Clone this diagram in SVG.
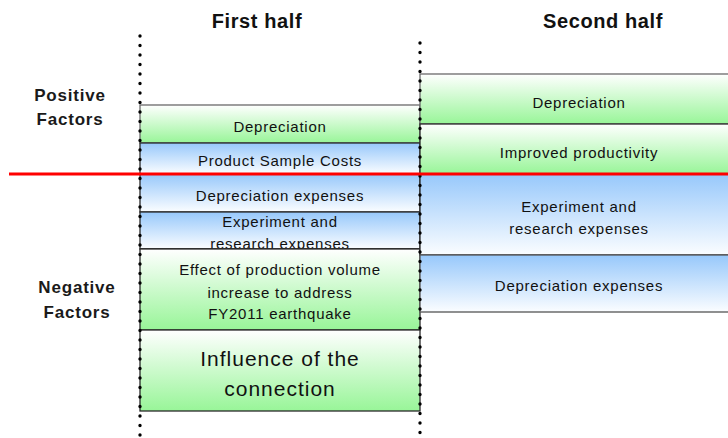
<svg xmlns="http://www.w3.org/2000/svg" width="728" height="438" viewBox="0 0 728 438">
  <defs>
    <linearGradient id="gGreen" x1="0" y1="0" x2="0" y2="1">
      <stop offset="0" stop-color="#ffffff"/>
      <stop offset="1" stop-color="#98f598"/>
    </linearGradient>
    <linearGradient id="gBlue" x1="0" y1="0" x2="0" y2="1">
      <stop offset="0" stop-color="#97c8fb"/>
      <stop offset="1" stop-color="#fbfdff"/>
    </linearGradient>
  </defs>
  <style>
    text { font-family: "Liberation Sans", Arial, sans-serif; fill: #111; text-anchor: middle; }
    .head { font-size: 20px; font-weight: bold; letter-spacing: 0.6px; }
    .side { font-size: 17px; font-weight: bold; letter-spacing: 0.8px; fill: #1a1a1a; }
    .lbl { font-size: 15px; letter-spacing: 0.75px; }
    .big { font-size: 21px; letter-spacing: 1px; }
    .green { fill: url(#gGreen); stroke: #2a2a2a; stroke-width: 1.3; }
    .blue { fill: url(#gBlue); stroke: #2a2a2a; stroke-width: 1.3; }
    .dots { stroke: #000; stroke-width: 3.4; stroke-linecap: round; stroke-dasharray: 0 9.5; fill: none; }
  </style>

  <!-- column headings -->
  <text class="head" x="257" y="28">First half</text>
  <text class="head" x="603" y="28">Second half</text>

  <!-- row headings -->
  <text class="side" x="70" y="101">Positive</text>
  <text class="side" x="70" y="125">Factors</text>
  <text class="side" x="77" y="293">Negative</text>
  <text class="side" x="77" y="318">Factors</text>

  <!-- first half stack -->
  <g id="fh-depreciation">
    <rect class="green" x="140" y="105" width="280" height="38" style="stroke:#6a6a6a"/>
    <text class="lbl" x="280" y="132">Depreciation</text>
  </g>
  <g id="fh-sample-costs">
    <rect class="blue" x="140" y="143" width="280" height="31"/>
    <text class="lbl" x="280" y="166">Product Sample Costs</text>
  </g>
  <g id="fh-depreciation-expenses">
    <rect class="blue" x="140" y="174" width="280" height="38"/>
    <text class="lbl" x="280" y="201">Depreciation expenses</text>
  </g>
  <g id="fh-research">
    <rect class="blue" x="140" y="212" width="280" height="37"/>
    <text class="lbl" x="280" y="227">Experiment and</text>
    <text class="lbl" x="280" y="248.5">research expenses</text>
    <line x1="140" y1="249" x2="420" y2="249" stroke="#2a2a2a" stroke-width="1.3"/>
  </g>
  <g id="fh-production-volume">
    <rect class="green" x="140" y="249" width="280" height="81"/>
    <text class="lbl" x="280" y="275">Effect of production volume</text>
    <text class="lbl" x="280" y="297.5">increase to address</text>
    <text class="lbl" x="280" y="319">FY2011 earthquake</text>
  </g>
  <g id="fh-connection">
    <rect class="green" x="140" y="330" width="280" height="81"/>
    <text class="big" x="280" y="366">Influence of the</text>
    <text class="big" x="280" y="396">connection</text>
  </g>

  <!-- second half stack -->
  <g id="sh-depreciation">
    <rect class="green" x="420" y="74" width="320" height="50" style="stroke:#6a6a6a"/>
    <text class="lbl" x="579" y="108">Depreciation</text>
  </g>
  <g id="sh-productivity">
    <rect class="green" x="420" y="124" width="320" height="50"/>
    <text class="lbl" x="579" y="158">Improved productivity</text>
  </g>
  <g id="sh-research">
    <rect class="blue" x="420" y="174" width="320" height="81"/>
    <text class="lbl" x="579" y="212">Experiment and</text>
    <text class="lbl" x="579" y="233.5">research expenses</text>
  </g>
  <g id="sh-depreciation-expenses">
    <rect class="blue" x="420" y="255" width="320" height="57" style="stroke:#555"/>
    <text class="lbl" x="579" y="291">Depreciation expenses</text>
  </g>

  <!-- period dividers and the positive/negative split -->
  <g id="connectors">
    <line class="dots" x1="140" y1="36" x2="140" y2="440"/>
    <line class="dots" x1="420" y1="43" x2="420" y2="440"/>
    <line x1="9" y1="174" x2="728" y2="174" stroke="#ff0000" stroke-width="3"/>
  </g>
</svg>
